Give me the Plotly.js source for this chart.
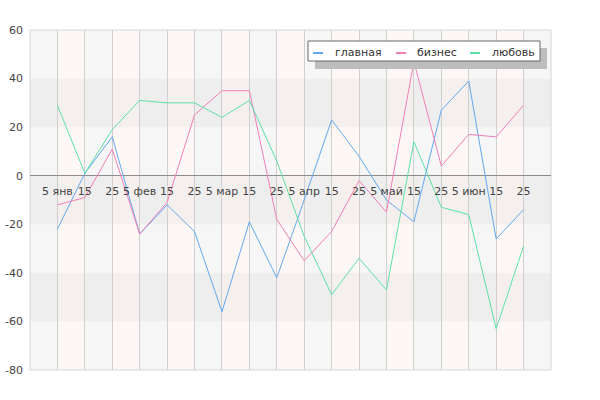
<!DOCTYPE html>
<html>
<head>
<meta charset="utf-8">
<script src="https://cdn.plot.ly/plotly-3.0.1.min.js"></script>
<style>html,body{margin:0;padding:0;background:#fff;}#chart{width:600px;height:400px;}</style>
</head>
<body>
<div id="chart"></div>
<script>
// ---- data ----
var dates = ["2015-01-05","2015-01-15","2015-01-25","2015-02-05","2015-02-15","2015-02-25",
             "2015-03-05","2015-03-15","2015-03-25","2015-04-05","2015-04-15","2015-04-25",
             "2015-05-05","2015-05-15","2015-05-25","2015-06-05","2015-06-15","2015-06-25"];
var tickLabels = ["5 янв","15","25","5 фев","15","25","5 мар","15","25",
                  "5 апр","15","25","5 май","15","25","5 июн","15","25"];
var seriesNames = ["главная","бизнес","любовь"];
var glavnaya = [-22, 1, 16, -24, -12, -23, -56, -19, -42, -10, 23, 8, -10, -19, 27, 39, -26, -14];
var biznes   = [-12, -9, 11, -24, -11, 25, 35, 35, -18, -35, -23, -2, -15, 47, 4, 17, 16, 29];
var lyubov   = [29, 1, 19, 31, 30, 30, 24, 31, 6, -25, -49, -34, -47, 14, -13, -16, -63, -29];
var yTicks = [-80, -60, -40, -20, 0, 20, 40, 60];

// ---- styling ----
var colors = ["#62a8f0", "#f27fb8", "#5ee0a6"];
var FONT = "DejaVu Sans, sans-serif";
var W = 600, H = 400, ML = 30, MR = 49, MT = 30, MB = 30;
var PW = W - ML - MR, PH = H - MT - MB;
function px2x(p){ return (p - ML) / PW; }
function py2y(p){ return (H - MB - p) / PH; }

var values = [glavnaya, biznes, lyubov];
var traces = values.map(function(v, i){
  return {x: dates, y: v, type: "scatter", mode: "lines", name: seriesNames[i],
          line: {color: colors[i], width: 1}, showlegend: false, hoverinfo: "x+y+name"};
});

var yMin = yTicks[0], yMax = yTicks[yTicks.length - 1];
var n = dates.length;
var shapes = [];
// alternating pink columns
for (var i = 0; i < n - 1; i += 2) {
  shapes.push({type: "rect", xref: "x", yref: "paper", x0: i, x1: i + 1, y0: 0, y1: 1,
               fillcolor: "#fdf8f5", line: {width: 0}, layer: "below"});
}
// darker rows
for (var k = 0; k < yTicks.length - 1; k++) {
  if ((yTicks.length - 2 - k) % 2 === 1) {
    shapes.push({type: "rect", xref: "paper", yref: "y", x0: 0, x1: 1, y0: yTicks[k], y1: yTicks[k + 1],
                 fillcolor: "rgba(0,0,0,0.03)", line: {width: 0}, layer: "below"});
  }
}
// plot frame
shapes.push({type: "rect", xref: "paper", yref: "paper", x0: 0, x1: 1, y0: 0, y1: 1,
             line: {color: "#d6d6d6", width: 1}, layer: "below"});

// custom legend (box, shadow, symbols)
var lgL = 308, lgR = 540, lgT = 41, lgB = 61, sh = 7;
shapes.push({type: "rect", xref: "paper", yref: "paper", x0: px2x(lgL + sh), x1: px2x(lgR + sh),
             y0: py2y(lgB + sh + 1), y1: py2y(lgT + sh), fillcolor: "#bdbdbd", line: {width: 0}, layer: "above"});
shapes.push({type: "rect", xref: "paper", yref: "paper", x0: px2x(lgL), x1: px2x(lgR),
             y0: py2y(lgB), y1: py2y(lgT), fillcolor: "#ffffff", line: {color: "#666", width: 1}, layer: "above"});
var symX = [313, 396, 470], txtX = [333, 415, 490], lgMid = 52;
var annotations = [];
seriesNames.forEach(function(name, i){
  shapes.push({type: "line", xref: "paper", yref: "paper", x0: px2x(symX[i]), x1: px2x(symX[i] + 10),
               y0: py2y(lgMid + 1), y1: py2y(lgMid + 1), line: {color: colors[i], width: 2}, layer: "above"});
  annotations.push({xref: "paper", yref: "paper", x: px2x(txtX[i]), y: py2y(lgMid), text: name,
                    showarrow: false, xanchor: "left", yanchor: "middle",
                    font: {family: FONT, size: 11, color: "#333"}});
});

var layout = {
  width: W, height: H,
  margin: {l: ML, r: MR, t: MT, b: MB, pad: 0},
  paper_bgcolor: "#ffffff", plot_bgcolor: "#f6f6f6",
  font: {family: FONT, size: 11, color: "#444"},
  showlegend: false,
  xaxis: {type: "category", categoryorder: "array", categoryarray: dates,
          range: [-1, n], tickvals: dates, ticktext: tickLabels,
          showgrid: true, gridcolor: "#cfcfcf", gridwidth: 1,
          zeroline: false, showline: false, ticks: "",
          anchor: "free", position: (0 - yMin) / (yMax - yMin),
          ticklabelstandoff: 7,
          tickfont: {family: FONT, size: 11, color: "#444"}, fixedrange: true},
  yaxis: {range: [yMin, yMax], tickvals: yTicks, ticktext: yTicks.map(String), showgrid: false,
          zeroline: true, zerolinecolor: "#8c8c8c", zerolinewidth: 1,
          showline: false, ticks: "", ticklabelstandoff: 6,
          tickfont: {family: FONT, size: 11, color: "#444"}, fixedrange: true},
  shapes: shapes,
  annotations: annotations
};

Plotly.newPlot("chart", traces, layout, {displayModeBar: false, staticPlot: true});
</script>
</body>
</html>
